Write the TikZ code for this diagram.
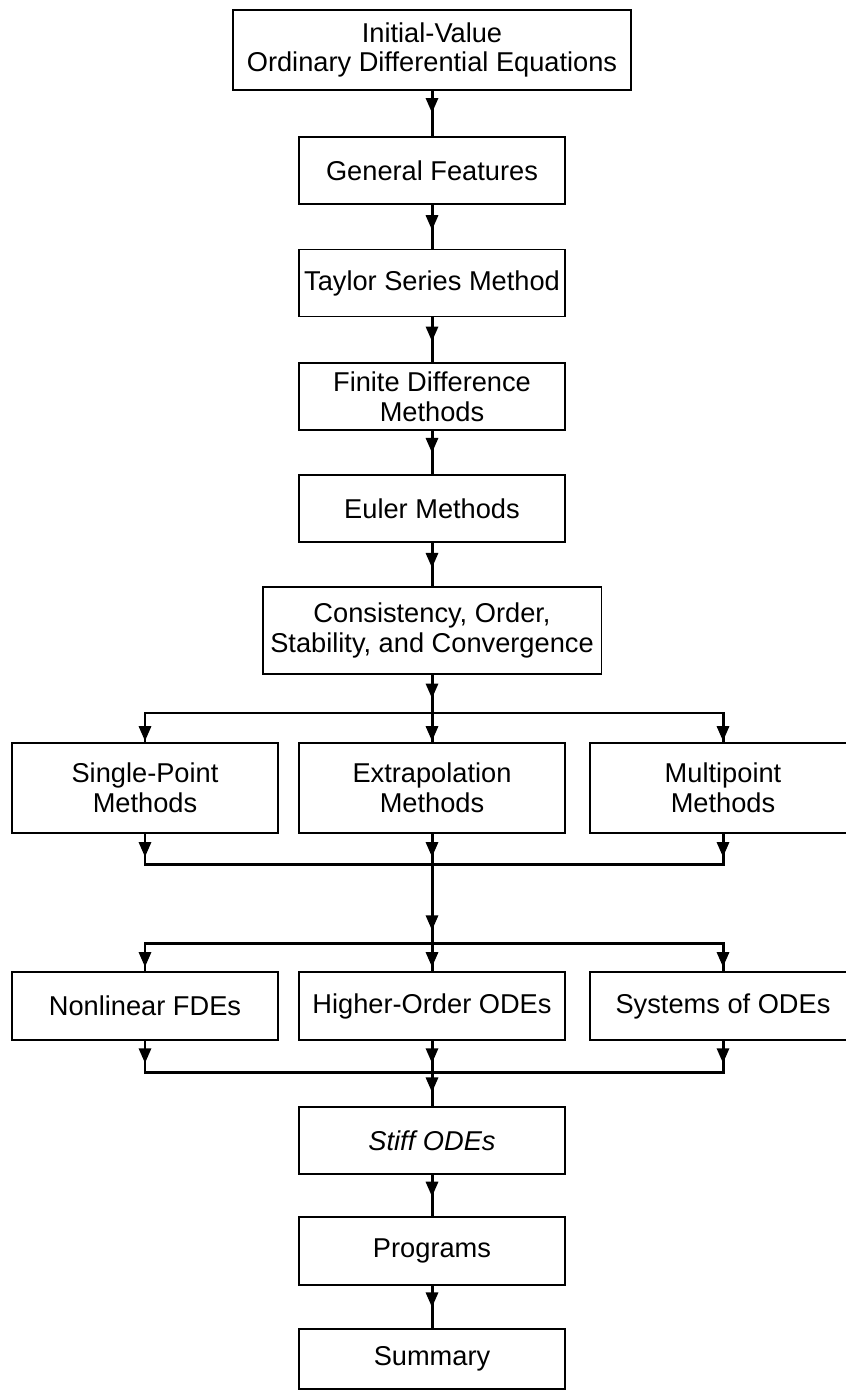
\documentclass[tikz,border=0pt]{standalone}
\usepackage{fontspec}
\setmainfont{Liberation Sans}
\usetikzlibrary{arrows.meta,decorations.markings,positioning,calc}

\tikzset{
  box/.style={draw, line width=1.1pt, align=center, inner sep=0pt,
    minimum width=5.32cm, minimum height=1.34cm,
    font=\fontsize{15.5}{17}\selectfont},
  flow/.style={line width=1.7pt, line cap=rect,
    decoration={markings, mark=at position #1 with {\arrow{Triangle[length=0.3cm,width=0.24cm]}}},
    postaction={decorate}},
  flow/.default=0.55,
  bus/.style={line width=1.7pt, line cap=rect}
}

\begin{document}
\begin{tikzpicture}[x=0.02cm, y=-0.02cm]
\useasboundingbox (0,0) rectangle (845,1391);
% main column
\node[box, minimum width=7.96cm, minimum height=1.6cm] (ivp) at (432,50) {Initial-Value\\Ordinary Differential Equations};
\node[box] (feat) at (432,170.5) {General Features};
\node[box] (taylor) at (432,283) {Taylor Series Method};
\node[box] (fdm) at (432,396.5) {Finite Difference\\Methods};
\node[box] (euler) at (432,508.5) {Euler Methods};
\node[box, minimum width=6.78cm, minimum height=1.74cm] (cons) at (432,630.5) {Consistency, Order,\\Stability, and Convergence};
% first row of methods
\node[box, minimum height=1.8cm] (single) at (145,788) {Single-Point\\Methods};
\node[box, minimum height=1.8cm] (extra) at (432,788) {Extrapolation\\Methods};
\node[box, minimum height=1.8cm] (multi) at (723,788) {Multipoint\\Methods};
% second row
\node[box, minimum height=1.36cm] (nonlin) at (145,1006) {Nonlinear FDEs};
\node[box, minimum height=1.36cm] (higher) at (432,1006) {Higher-Order ODEs};
\node[box, minimum height=1.36cm] (systems) at (723,1006) {Systems of ODEs};
% bottom column
\node[box] (stiff) at (432,1140.5) {\itshape Stiff ODEs};
\node[box, minimum height=1.36cm] (progs) at (432,1251) {Programs};
\node[box, minimum height=1.2cm] (summ) at (432,1359) {Summary};
% bus points
\coordinate (hub1) at (432,713);
\coordinate (hub2) at (432,864);
\coordinate (hub3) at (432,943);
\coordinate (hub4) at (432,1072);

% straight links
\draw[flow=0.49] (ivp) -- (feat);
\draw[flow=0.58] (feat) -- (taylor);
\draw[flow=0.54] (taylor) -- (fdm);
\draw[flow=0.51] (fdm) -- (euler);
\draw[flow=0.58] (euler) -- (cons);
\draw[flow=0.62] (cons) -- (hub1);
% fan out / fan in, first row
\draw[bus] (single.north |- hub1) -- (multi.north |- hub1);
\foreach \n in {single,extra,multi}
  \draw[flow=0.97] (\n.north |- hub1) -- (\n);
\foreach \n in {single,extra,multi}
  \draw[flow=0.77] (\n) -- (\n.south |- hub2);
\draw[bus] (single.south |- hub2) -- (multi.south |- hub2);
\draw[flow=0.84] (hub2) -- (hub3);
% fan out / fan in, second row
\draw[bus] (nonlin.north |- hub3) -- (systems.north |- hub3);
\foreach \n in {nonlin,higher,systems}
  \draw[flow=0.86] (\n.north |- hub3) -- (\n);
\foreach \n in {nonlin,higher,systems}
  \draw[flow=0.72] (\n) -- (\n.south |- hub4);
\draw[bus] (nonlin.south |- hub4) -- (systems.south |- hub4);
\draw[flow=0.6] (hub4) -- (stiff);
\draw[flow=0.53] (stiff) -- (progs);
\draw[flow=0.51] (progs) -- (summ);
\end{tikzpicture}
\end{document}
